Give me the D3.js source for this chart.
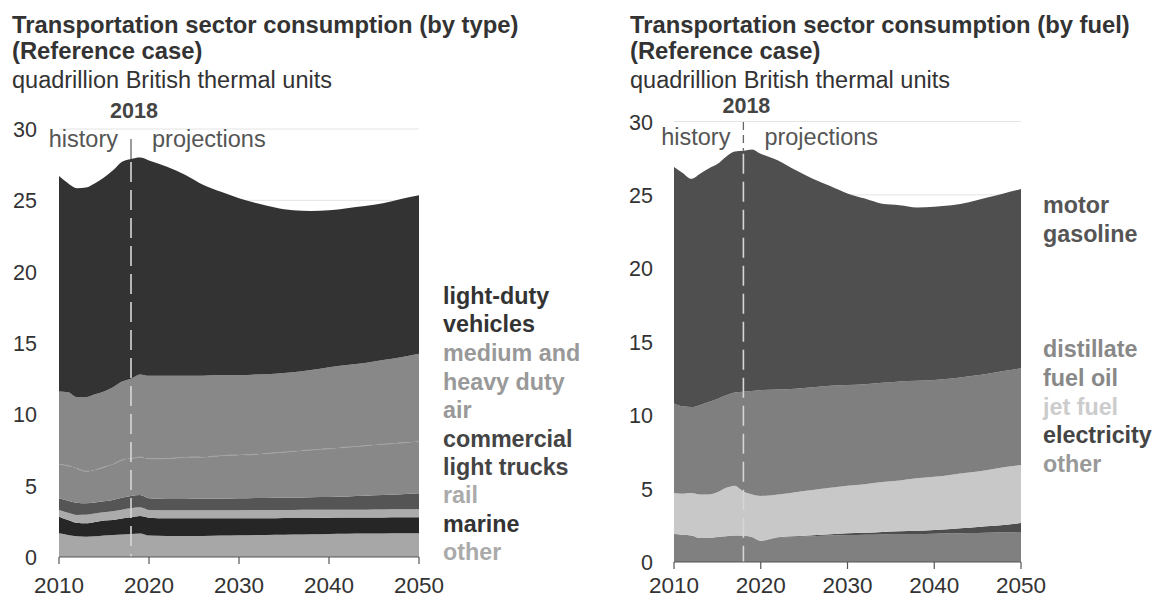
<!DOCTYPE html>
<html><head><meta charset="utf-8">
<script src="https://cdn.jsdelivr.net/npm/d3@7"></script>
<style>
body{margin:0;background:#fff;}
svg{display:block;}
text{font-family:"Liberation Sans",Arial,Helvetica,sans-serif;}
</style>
</head><body>
<svg id="c" width="1156" height="598"></svg>
<script>
// ---------- data ----------
const years = [2010,2011,2012,2013,2014,2015,2016,2017,2018,2019,2020,2022,2024,2026,2028,2030,2032,2034,2036,2038,2040,2042,2044,2046,2048,2050];

// Panel 1: by type (quadrillion Btu), stacked bottom -> top
const typeKeys = ["other","marine","rail","commercial light trucks","air","medium and heavy duty","light-duty vehicles"];
const typeOther  = [1.66,1.55,1.45,1.42,1.45,1.5,1.55,1.58,1.61,1.65,1.5,1.47,1.47,1.48,1.5,1.52,1.54,1.56,1.58,1.6,1.62,1.63,1.64,1.65,1.66,1.66];
const typeMarine = [1.17,1.05,0.95,0.94,1.0,1.05,1.05,1.12,1.17,1.22,1.25,1.24,1.24,1.23,1.21,1.19,1.18,1.16,1.15,1.14,1.13,1.13,1.12,1.12,1.12,1.12];
const typeRail   = [0.46,0.5,0.55,0.6,0.6,0.58,0.6,0.62,0.63,0.61,0.55,0.57,0.57,0.57,0.57,0.57,0.57,0.57,0.57,0.57,0.56,0.56,0.56,0.56,0.56,0.56];
const typeCLT    = [0.82,0.85,0.85,0.8,0.77,0.77,0.8,0.83,0.86,0.86,0.81,0.78,0.79,0.8,0.81,0.83,0.84,0.86,0.87,0.88,0.89,0.92,0.97,1.01,1.06,1.12];
const typeAir    = [2.39,2.45,2.4,2.24,2.28,2.4,2.5,2.65,2.63,2.66,2.79,2.84,2.93,2.92,3.01,3.04,3.07,3.15,3.23,3.31,3.4,3.46,3.51,3.56,3.6,3.64];
const typeMHD    = [5.1,5.15,5.0,5.2,5.3,5.3,5.4,5.5,5.6,5.8,5.8,5.8,5.7,5.7,5.65,5.6,5.6,5.55,5.55,5.6,5.7,5.75,5.8,5.9,6.0,6.15];
const typeLDV    = [15.1,14.65,14.65,14.7,14.8,15.0,15.2,15.4,15.4,15.2,15.1,14.65,14.1,13.4,12.85,12.4,12.0,11.65,11.35,11.15,11.0,11.0,11.0,11.0,11.1,11.1];

// Panel 2: by fuel
const fuelKeys = ["other","electricity","jet fuel","distillate fuel oil","motor gasoline"];
const fuelOther    = [1.9,1.85,1.8,1.63,1.65,1.7,1.75,1.8,1.77,1.7,1.43,1.65,1.7,1.75,1.8,1.84,1.86,1.88,1.9,1.9,1.92,1.95,1.97,2.0,2.02,2.05];
const fuelElec     = [0,0,0,0,0,0,0,0,0.01,0.01,0.02,0.04,0.05,0.07,0.09,0.11,0.13,0.16,0.19,0.22,0.26,0.3,0.36,0.43,0.5,0.6];
const fuelJet      = [2.8,2.8,2.9,2.97,2.95,3.05,3.3,3.4,3.02,2.89,3.05,2.91,3.0,3.08,3.16,3.25,3.31,3.41,3.46,3.58,3.62,3.7,3.77,3.82,3.93,3.95];
const fuelDist     = [6.1,5.95,5.85,6.1,6.3,6.35,6.3,6.35,6.8,7.05,7.2,7.15,7.05,7.0,6.95,6.85,6.8,6.75,6.75,6.65,6.6,6.55,6.55,6.55,6.55,6.6];
const fuelGasoline = [16.1,15.9,15.55,15.75,15.9,16.0,16.25,16.4,16.4,16.45,16.1,15.6,14.9,14.2,13.6,13.05,12.65,12.2,12.0,11.8,11.8,11.8,11.85,12.0,12.1,12.2];

const yTicks = [0,5,10,15,20,25,30];
const xTicks = [2010,2020,2030,2040,2050];
const splitYear = 2018;

// ---------- drawing ----------
const svg = d3.select("#c");

function drawPanel(cfg){
  const g = svg.append("g");
  const x = d3.scaleLinear().domain([2010,2050]).range(cfg.xRange);
  const y = d3.scaleLinear().domain([0,30]).range(cfg.yRange);
  const rows = years.map((yr,i)=>{
    const r = {year:yr};
    cfg.keys.forEach((k,j)=>{ r[k] = cfg.values[j][i]; });
    return r;
  });
  const series = d3.stack().keys(cfg.keys)(rows);

  // gridlines
  g.selectAll("line.grid").data(yTicks.filter(t=>t>0)).join("line")
    .attr("x1", cfg.xRange[0]).attr("x2", cfg.xRange[1])
    .attr("y1", d=>y(d)).attr("y2", d=>y(d))
    .attr("stroke", "#e4e4e4").attr("stroke-width", 1);

  const area = d3.area().x(d=>x(d.data.year)).y0(d=>y(d[0])).y1(d=>y(d[1])).curve(d3.curveMonotoneX);
  g.selectAll("path.layer").data(series).join("path")
    .attr("d", area).attr("fill", (d,i)=>cfg.colors[i]);

  if (cfg.seamIndex !== undefined){
    const seam = d3.line().x(d=>x(d.data.year)).y(d=>y(d[1])).curve(d3.curveMonotoneX);
    g.append("path").attr("d", seam(series[cfg.seamIndex]))
      .attr("fill","none").attr("stroke","#a3a3a3").attr("stroke-width",1.2)
      .attr("stroke-dasharray","12,7");
  }

  // 2018 divider
  const xs = x(splitYear);
  const si = years.indexOf(splitYear);
  const topAt = y(series[series.length-1][si][1]);
  g.append("line").attr("x1",xs).attr("x2",xs).attr("y1",cfg.divTop).attr("y2",topAt)
    .attr("stroke","#666").attr("stroke-width",1.3).attr("stroke-dasharray", cfg.topDash);
  g.append("line").attr("x1",xs).attr("x2",xs).attr("y1",topAt+3).attr("y2",cfg.yRange[0])
    .attr("stroke","#d6d6d6").attr("stroke-width",1.6).attr("stroke-dasharray","20,8");

  // x axis
  const base = cfg.yRange[0];
  g.append("line").attr("x1",cfg.xRange[0]).attr("x2",cfg.xRange[1]).attr("y1",base).attr("y2",base)
    .attr("stroke","#555").attr("stroke-width",1.2);
  g.selectAll("line.xt").data(xTicks).join("line")
    .attr("x1",d=>x(d)).attr("x2",d=>x(d)).attr("y1",base).attr("y2",base+7)
    .attr("stroke","#555").attr("stroke-width",1.2);
  g.selectAll("text.xl").data(xTicks).join("text")
    .attr("x",d=>x(d)).attr("y",593).attr("text-anchor","middle")
    .attr("font-size",22.5).attr("fill","#333").text(d=>d);

  // y labels
  g.selectAll("text.yl").data(yTicks).join("text")
    .attr("x",cfg.yLabelX).attr("y",d=>y(d)+8).attr("text-anchor","end")
    .attr("font-size",21.5).attr("fill","#333").text(d=>d);

  // titles
  g.append("text").attr("x",cfg.titleX).attr("y",33).attr("font-size",23.8).attr("font-weight","bold").attr("fill","#333").text(cfg.title1);
  g.append("text").attr("x",cfg.titleX).attr("y",59).attr("font-size",23.8).attr("font-weight","bold").attr("fill","#333").text("(Reference case)");
  g.append("text").attr("x",cfg.titleX).attr("y",88).attr("font-size",23.5).attr("fill","#333").text("quadrillion British thermal units");

  g.append("text").attr("x",xs+3).attr("y",cfg.yearLabelY).attr("text-anchor","middle")
    .attr("font-size",21.5).attr("font-weight","bold").attr("fill","#444").text(splitYear);
  g.append("text").attr("x",xs-13).attr("y",cfg.histY).attr("text-anchor","end")
    .attr("font-size",23.5).attr("fill","#555").text("history");
  g.append("text").attr("x",xs+21).attr("y",cfg.histY)
    .attr("font-size",23.5).attr("fill","#555").text("projections");

  // legend labels
  cfg.legend.forEach(l=>{
    g.append("text").attr("x",cfg.legendX).attr("y",l.y).attr("font-size",23.3)
      .attr("font-weight","bold").attr("fill",l.c).text(l.t);
  });
}

drawPanel({
  xRange:[59,419], yRange:[557,129], yLabelX:37, titleX:12,
  keys:typeKeys,
  values:[typeOther,typeMarine,typeRail,typeCLT,typeAir,typeMHD,typeLDV],
  colors:["#a7a7a7","#262626","#ababab","#555555","#888888","#888888","#333333"],
  seamIndex:4,
  divTop:139, topDash:null, yearLabelY:118, histY:147,
  title1:"Transportation sector consumption (by type)",
  legendX:443,
  legend:[
    {t:"light-duty",y:304,c:"#333"},{t:"vehicles",y:332,c:"#333"},
    {t:"medium and",y:361,c:"#999"},{t:"heavy duty",y:390,c:"#999"},
    {t:"air",y:418,c:"#999"},
    {t:"commercial",y:447,c:"#444"},{t:"light trucks",y:475,c:"#444"},
    {t:"rail",y:503,c:"#aaa"},
    {t:"marine",y:532,c:"#333"},
    {t:"other",y:560,c:"#aaa"}
  ]
});

drawPanel({
  xRange:[674,1021], yRange:[562,121.5], yLabelX:653, titleX:630,
  keys:fuelKeys,
  values:[fuelOther,fuelElec,fuelJet,fuelDist,fuelGasoline],
  colors:["#808080","#4d4d4d","#c8c8c8","#7f7f7f","#4f4f4f"],
  divTop:122, topDash:"8,5", yearLabelY:113, histY:145,
  title1:"Transportation sector consumption (by fuel)",
  legendX:1043,
  legend:[
    {t:"motor",y:213,c:"#555"},{t:"gasoline",y:242,c:"#555"},
    {t:"distillate",y:357,c:"#888"},{t:"fuel oil",y:386,c:"#888"},
    {t:"jet fuel",y:415,c:"#ccc"},
    {t:"electricity",y:443,c:"#444"},
    {t:"other",y:472,c:"#999"}
  ]
});
</script>
</body></html>
